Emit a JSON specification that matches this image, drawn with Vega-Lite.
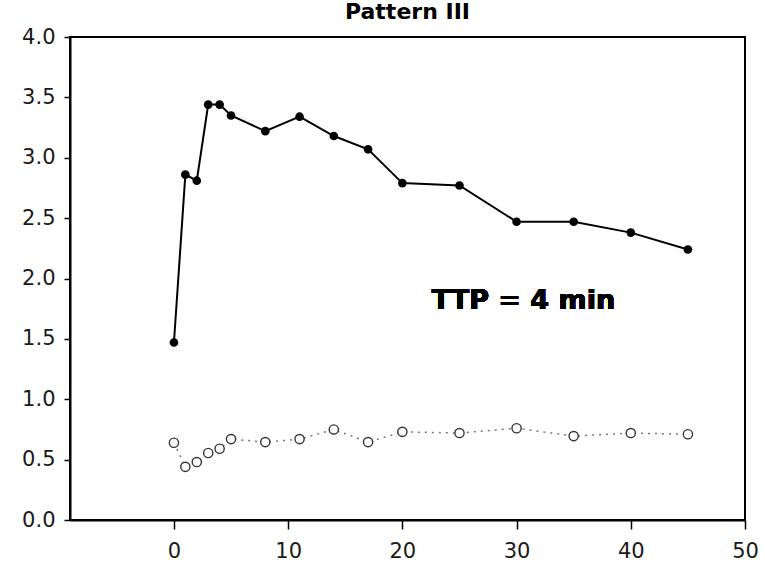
{
  "$schema": "https://vega.github.io/schema/vega-lite/v6.json",
  "width": 675,
  "height": 483,
  "autosize": {"type": "none"},
  "padding": {"left": 70, "top": 37, "right": 20, "bottom": 48},
  "background": "white",
  "title": {"text": "Pattern III", "fontSize": 22, "font": "DejaVu Sans", "fontWeight": "bold", "color": "#000", "offset": 2, "anchor": "middle"},
  "config": {
    "view": {"stroke": "#000", "strokeWidth": 2},
    "axis": {"grid": false, "domainColor": "#000", "domainWidth": 2, "tickColor": "#000", "tickWidth": 1.5, "labelFont": "DejaVu Sans", "labelFontSize": 21, "labelColor": "#1a1a1a", "title": null}
  },
  "data": {"values": [
    {"t": 0, "filled": 1.47, "open": 0.64},
    {"t": 1, "filled": 2.86, "open": 0.44},
    {"t": 2, "filled": 2.81, "open": 0.48},
    {"t": 3, "filled": 3.44, "open": 0.555},
    {"t": 4, "filled": 3.44, "open": 0.59},
    {"t": 5, "filled": 3.35, "open": 0.67},
    {"t": 8, "filled": 3.22, "open": 0.645},
    {"t": 11, "filled": 3.34, "open": 0.67},
    {"t": 14, "filled": 3.18, "open": 0.75},
    {"t": 17, "filled": 3.07, "open": 0.645},
    {"t": 20, "filled": 2.79, "open": 0.73},
    {"t": 25, "filled": 2.77, "open": 0.72},
    {"t": 30, "filled": 2.47, "open": 0.76},
    {"t": 35, "filled": 2.47, "open": 0.695},
    {"t": 40, "filled": 2.38, "open": 0.72},
    {"t": 45, "filled": 2.24, "open": 0.71}
  ]},
  "encoding": {
    "x": {"field": "t", "type": "quantitative",
      "scale": {"domain": [-9.1, 50], "nice": false, "zero": false},
      "axis": {"values": [0, 10, 20, 30, 40, 50], "tickSize": 9, "labelPadding": 11, "labelFlush": false}}
  },
  "layer": [
    {
      "mark": {"type": "line", "stroke": "#777", "strokeWidth": 1.5, "strokeDash": [2, 5]},
      "encoding": {"y": {"field": "open", "type": "quantitative",
        "scale": {"domain": [0, 4], "nice": false},
        "axis": {"values": [0, 0.5, 1, 1.5, 2, 2.5, 3, 3.5, 4], "format": ".1f", "tickSize": 6, "labelPadding": 9}}}
    },
    {
      "mark": {"type": "point", "shape": "circle", "filled": false, "fill": "white", "stroke": "#333", "strokeWidth": 1.4, "size": 85, "opacity": 1},
      "encoding": {"y": {"field": "open", "type": "quantitative"}}
    },
    {
      "mark": {"type": "line", "stroke": "#000", "strokeWidth": 2},
      "encoding": {"y": {"field": "filled", "type": "quantitative"}}
    },
    {
      "mark": {"type": "point", "shape": "circle", "filled": true, "fill": "#000", "size": 75, "opacity": 1},
      "encoding": {"y": {"field": "filled", "type": "quantitative"}}
    },
    {
      "mark": {"type": "text", "text": "TTP = 4 min", "font": "DejaVu Sans", "fontWeight": "bold", "fontSize": 27, "color": "#000", "align": "center", "baseline": "middle"},
      "encoding": {"x": {"datum": 30.6}, "y": {"datum": 1.81}}
    }
  ]
}
